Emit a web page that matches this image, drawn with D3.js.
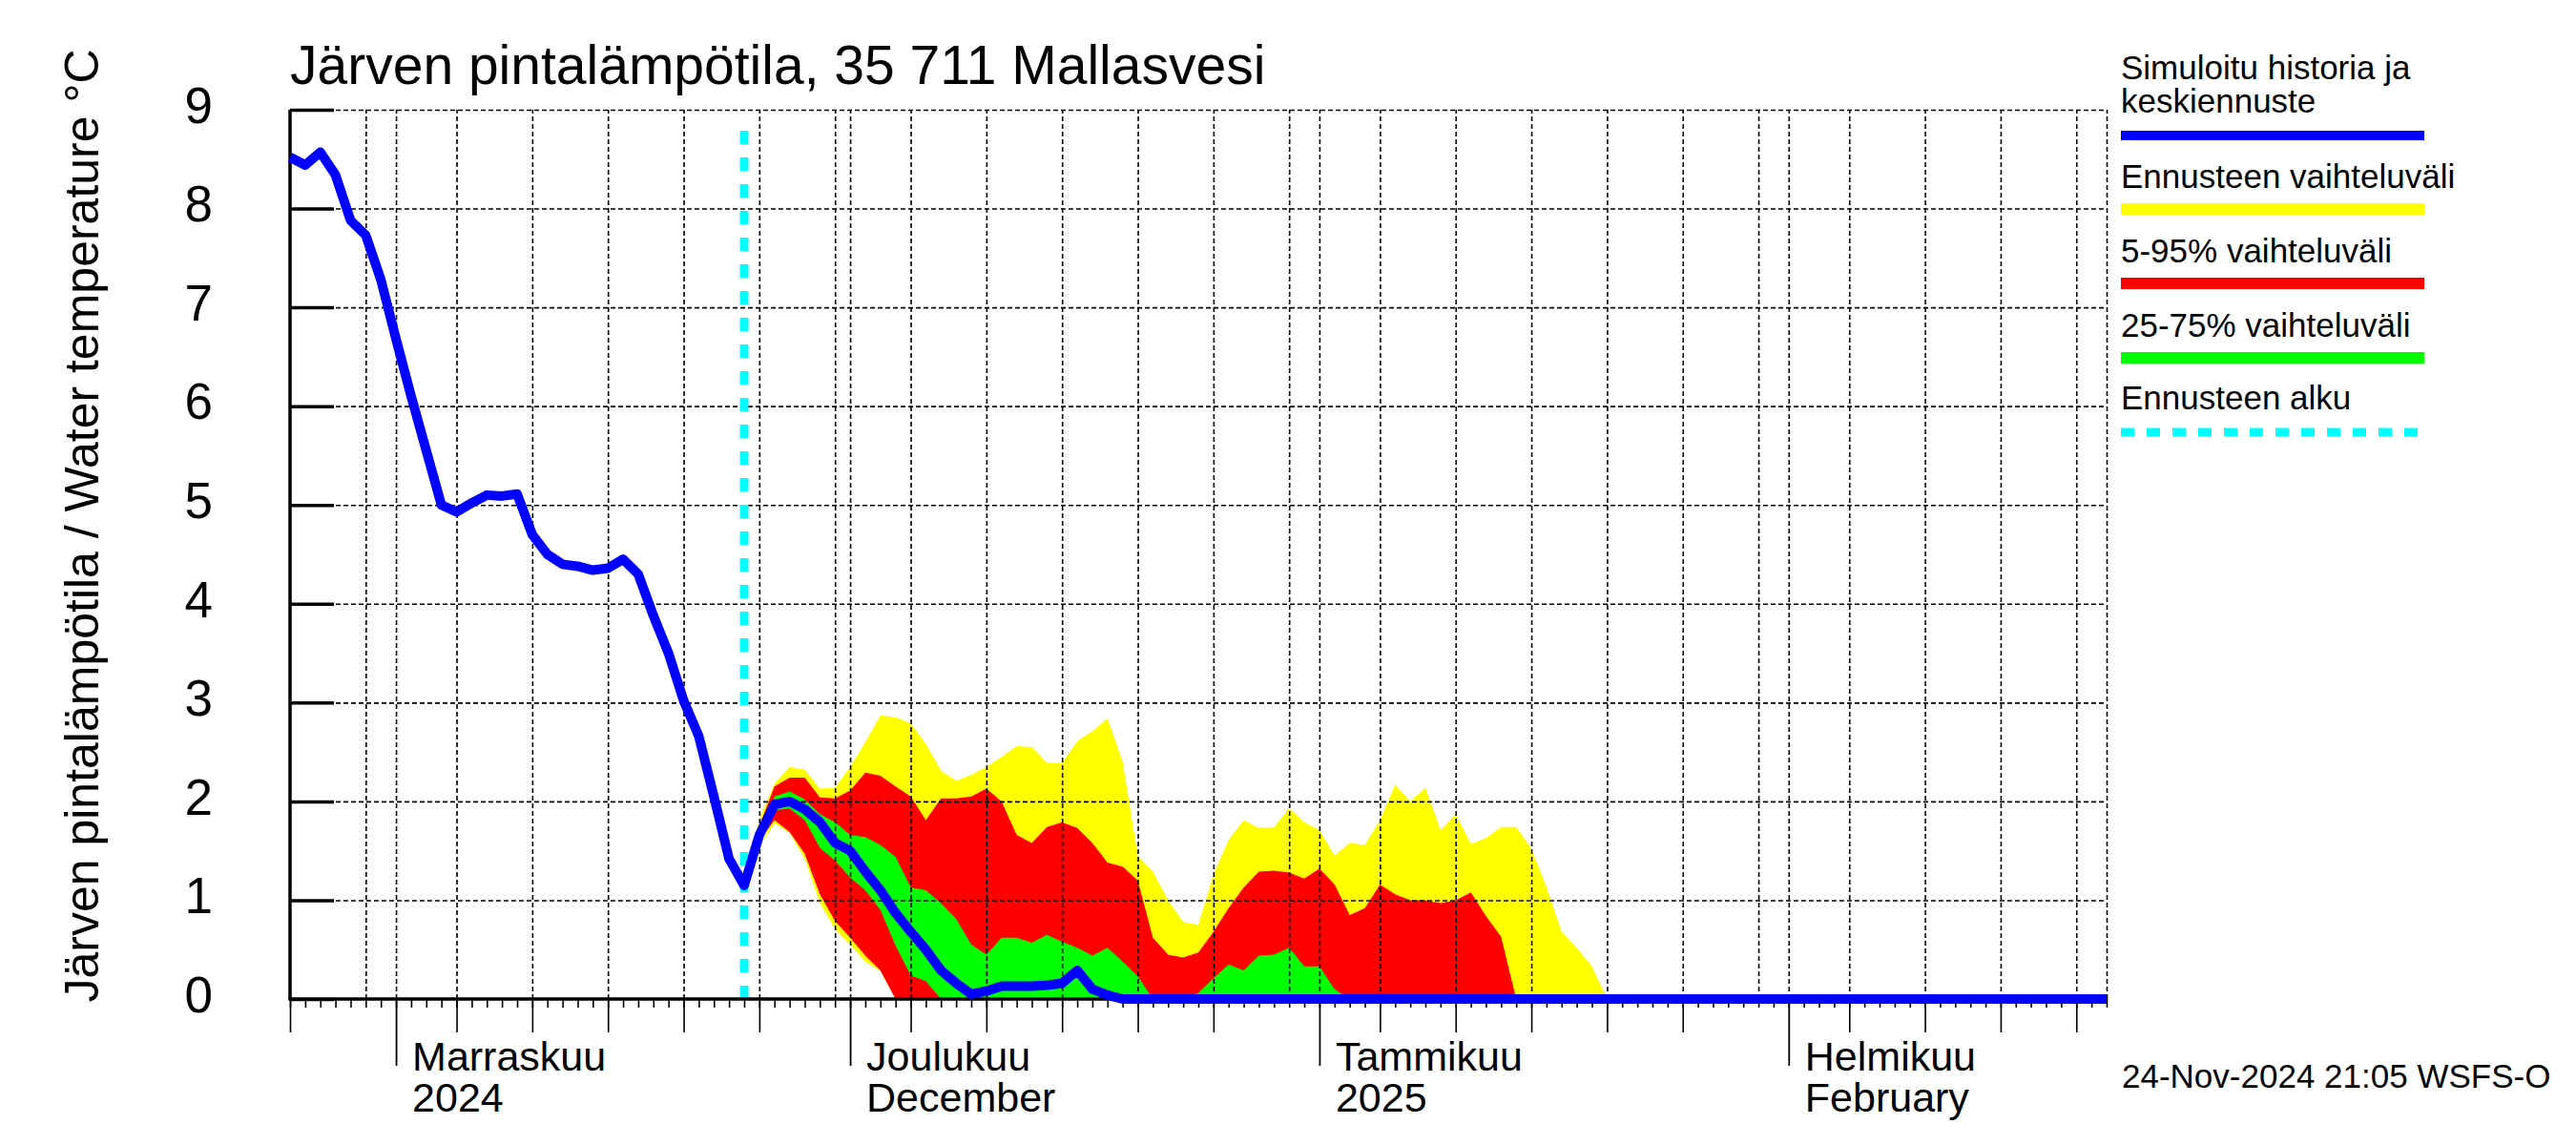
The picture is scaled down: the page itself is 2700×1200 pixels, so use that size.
<!DOCTYPE html>
<html>
<head>
<meta charset="utf-8">
<script src="https://cdn.jsdelivr.net/npm/d3@7"></script>
<style>
body { margin: 0; background: #fff; }
svg { display: block; font-family: "Liberation Sans", Arial, Helvetica, sans-serif; }
</style>
</head>
<body>
<svg id="chart" width="2700" height="1200"></svg>
<script>
// daily values, first value = 25 Oct 2024
var medianValues = [
  8.52, 8.44, 8.57, 8.34, 7.88, 7.73, 7.28, 6.68, 6.10, 5.55,
  5.00, 4.93, 5.02, 5.10, 5.09, 5.11, 4.70, 4.50, 4.40, 4.38,
  4.34, 4.36, 4.45, 4.30, 3.88, 3.50, 3.02, 2.66, 2.05, 1.42,
  1.15, 1.66, 1.97, 2.00, 1.92, 1.79, 1.58, 1.50, 1.29, 1.10,
  0.87, 0.68, 0.50, 0.29, 0.16, 0.05, 0.08, 0.13, 0.13, 0.13,
  0.14, 0.16, 0.29, 0.10, 0.04, 0.00, 0, 0, 0, 0,
  0, 0, 0, 0, 0, 0, 0, 0, 0, 0,
  0, 0, 0, 0, 0, 0, 0, 0, 0, 0,
  0, 0, 0, 0, 0, 0, 0, 0, 0, 0,
  0, 0, 0, 0, 0, 0, 0, 0, 0, 0,
  0, 0, 0, 0, 0, 0, 0, 0, 0, 0,
  0, 0, 0, 0, 0, 0, 0, 0, 0, 0,
  0
];

// forecast bands, first value = 24 Nov 2024
var yellowHi = [
  1.15, 1.82, 2.18, 2.35, 2.32, 2.13, 2.14, 2.35, 2.60, 2.87,
  2.85, 2.79, 2.58, 2.31, 2.21, 2.27, 2.35, 2.45, 2.56, 2.55,
  2.39, 2.39, 2.61, 2.71, 2.84, 2.40, 1.45, 1.29, 1.00, 0.78,
  0.75, 1.26, 1.61, 1.81, 1.73, 1.74, 1.93, 1.79, 1.71, 1.45,
  1.58, 1.56, 1.81, 2.17, 2.00, 2.14, 1.71, 1.87, 1.57, 1.63,
  1.74, 1.74, 1.52, 1.13, 0.68, 0.52, 0.33, 0.00
];
var yellowLo = [
  1.15, 1.55, 1.78, 1.68, 1.42, 0.97, 0.71, 0.55, 0.38, 0.28,
  0, 0, 0, 0, 0, 0, 0, 0, 0, 0,
  0, 0, 0, 0, 0, 0, 0, 0, 0, 0,
  0, 0, 0, 0, 0, 0, 0, 0, 0, 0,
  0, 0, 0, 0, 0, 0, 0, 0, 0, 0,
  0, 0, 0, 0, 0, 0, 0, 0
];
var redHi = [
  1.15, 1.75, 2.15, 2.24, 2.24, 2.04, 2.03, 2.11, 2.29, 2.26,
  2.15, 2.05, 1.81, 2.03, 2.03, 2.05, 2.13, 2.00, 1.66, 1.58,
  1.74, 1.79, 1.73, 1.58, 1.38, 1.34, 1.20, 0.62, 0.45, 0.42,
  0.47, 0.68, 0.92, 1.13, 1.29, 1.30, 1.28, 1.22, 1.32, 1.16,
  0.85, 0.92, 1.16, 1.06, 1.00, 1.00, 0.97, 1.00, 1.08, 0.84,
  0.63, 0.00
];
var redLo = [
  1.15, 1.60, 1.81, 1.69, 1.47, 1.06, 0.79, 0.62, 0.44, 0.29,
  0, 0, 0, 0, 0, 0, 0, 0, 0, 0,
  0, 0, 0, 0, 0, 0, 0, 0, 0, 0,
  0, 0, 0, 0, 0, 0, 0, 0, 0, 0,
  0, 0, 0, 0, 0, 0, 0, 0, 0, 0,
  0, 0
];
var greenHi = [
  1.15, 1.72, 2.05, 2.10, 2.02, 1.87, 1.79, 1.66, 1.64, 1.56,
  1.44, 1.13, 1.10, 0.97, 0.81, 0.55, 0.45, 0.62, 0.62, 0.57,
  0.65, 0.58, 0.52, 0.44, 0.52, 0.38, 0.23, 0.00, 0.00, 0.00,
  0.06, 0.21, 0.35, 0.29, 0.44, 0.45, 0.52, 0.33, 0.33, 0.10,
  0.00
];
var greenLo = [
  1.15, 1.62, 1.91, 1.93, 1.81, 1.53, 1.40, 1.23, 1.10, 0.90,
  0.54, 0.24, 0.18, 0, 0, 0, 0, 0, 0, 0,
  0, 0, 0, 0, 0, 0, 0, 0, 0, 0,
  0, 0, 0, 0, 0, 0, 0, 0, 0, 0,
  0
];

var yTicks = [0, 1, 2, 3, 4, 5, 6, 7, 8, 9];
var monthStarts = ["2024-11-01", "2024-12-01", "2025-01-01", "2025-02-01"];
var monthNames = ["Marraskuu", "Joulukuu", "Tammikuu", "Helmikuu"];
var monthSub = ["2024", "December", "2025", "February"];
var legendLabels = [["Simuloitu historia ja", "keskiennuste"], ["Ennusteen vaihteluväli"],
                    ["5-95% vaihteluväli"], ["25-75% vaihteluväli"], ["Ennusteen alku"]];

// plot box (window.top is read only, so other names)
var plotL = 304, plotR = 2208, plotT = 115, plotB = 1047;
var startDate = new Date(Date.UTC(2024, 9, 25));
var endDate = new Date(Date.UTC(2025, 1, 22));
var forecastDate = new Date(Date.UTC(2024, 10, 24));

var svg = d3.select("#chart");
svg.append("rect").attr("width", 2700).attr("height", 1200).attr("fill", "#fff");

var x = d3.scaleUtc().domain([startDate, endDate]).range([plotL, plotR]);
var y = d3.scaleLinear().domain([0, 9]).range([plotB, plotT]);

function toPoints(values, first) {
    return values.map((v, i) => ({date: d3.utcDay.offset(first, i), v: v}));
}
function toBand(hi, lo, first) {
    return hi.map((v, i) => ({date: d3.utcDay.offset(first, i), hi: v, lo: lo[i]}));
}

// bands
var area = d3.area().x(d => x(d.date)).y0(d => y(d.lo)).y1(d => y(d.hi));
[[yellowHi, yellowLo, "#ffff00"], [redHi, redLo, "#ff0000"], [greenHi, greenLo, "#00ff00"]].forEach(function(b) {
    svg.append("path").datum(toBand(b[0], b[1], forecastDate))
       .attr("d", area).attr("fill", b[2]).attr("stroke", "none");
});

// grid
var allDays = d3.utcDay.range(startDate, d3.utcDay.offset(endDate, 1));
var gridDays = allDays.filter(d => d > startDate && [1, 5, 10, 15, 20, 25, 30].indexOf(d.getUTCDate()) >= 0);
gridDays.push(endDate);

var gx = svg.append("g").attr("transform", "translate(0," + plotB + ")")
   .call(d3.axisBottom(x).tickValues(gridDays).tickSize(-(plotB - plotT)).tickFormat(""));
gx.select(".domain").remove();
gx.selectAll("line").attr("stroke", "#000").attr("stroke-width", 1.6).attr("stroke-dasharray", "5,3");

var gy = svg.append("g").attr("transform", "translate(" + plotL + ",0)")
   .call(d3.axisLeft(y).tickValues(yTicks.slice(1)).tickSize(-(plotR - plotL)).tickFormat(""));
gy.select(".domain").remove();
gy.selectAll("line").attr("stroke", "#000").attr("stroke-width", 1.6).attr("stroke-dasharray", "5,3");

// forecast start
svg.append("line")
   .attr("x1", x(forecastDate)).attr("x2", x(forecastDate))
   .attr("y1", y(0)).attr("y2", plotT + 12)
   .attr("stroke", "#00ffff").attr("stroke-width", 9).attr("stroke-dasharray", "14,14");

// x axis ticks
function tickRow(values, size, width) {
    var g = svg.append("g").attr("transform", "translate(0," + plotB + ")")
       .call(d3.axisBottom(x).tickValues(values).tickSize(size).tickFormat(""));
    g.select(".domain").remove();
    g.selectAll("line").attr("stroke", "#000").attr("stroke-width", width);
}
tickRow(allDays, 9, 1.6);
tickRow(allDays.filter(d => [5, 10, 15, 20, 25].indexOf(d.getUTCDate()) >= 0), 35, 1.6);
tickRow(monthStarts.map(s => new Date(s + "T00:00:00Z")), 70, 1.8);

// y axis ticks (inside) and labels
var yt = svg.append("g").attr("transform", "translate(" + plotL + ",0)")
   .call(d3.axisRight(y).tickValues(yTicks).tickSize(46).tickFormat(""));
yt.select(".domain").remove();
yt.selectAll("line").attr("stroke", "#000").attr("stroke-width", 3.5);

var yl = svg.append("g").attr("transform", "translate(" + plotL + ",0)")
   .call(d3.axisLeft(y).tickValues(yTicks).tickSize(0).tickPadding(81));
yl.select(".domain").remove();
yl.attr("font-family", null).attr("font-size", null);
yl.selectAll("text").attr("font-size", 53).attr("dy", "0.25em").attr("fill", "#000");

// axis lines
svg.append("line").attr("x1", plotL).attr("x2", plotL).attr("y1", plotT).attr("y2", plotB)
   .attr("stroke", "#000").attr("stroke-width", 3.5);
svg.append("line").attr("x1", plotL - 1.7).attr("x2", plotR).attr("y1", plotB).attr("y2", plotB)
   .attr("stroke", "#000").attr("stroke-width", 3.5);

// median / history line
var line = d3.line().x(d => x(d.date)).y(d => y(d.v));
svg.append("path").datum(toPoints(medianValues, startDate))
   .attr("d", line).attr("fill", "none").attr("stroke", "#0000ff")
   .attr("stroke-width", 10).attr("stroke-linejoin", "round");

// month labels
monthStarts.forEach(function(s, i) {
    var mx = x(new Date(s + "T00:00:00Z")) + 17;
    svg.append("text").attr("x", mx).attr("y", 1122).attr("font-size", 43).text(monthNames[i]);
    svg.append("text").attr("x", mx).attr("y", 1165).attr("font-size", 43).text(monthSub[i]);
});

// title and axis title
svg.append("text").attr("x", 304).attr("y", 88).attr("font-size", 57)
   .text("Järven pintalämpötila, 35 711 Mallasvesi");
svg.append("text").attr("transform", "translate(103,551) rotate(-90)")
   .attr("text-anchor", "middle").attr("font-size", 50)
   .text("Järven pintalämpötila / Water temperature °C");

// legend
var legendColors = ["#0000ff", "#ffff00", "#ff0000", "#00ff00", "#00ffff"];
var legendTextY = [83, 197, 275, 353, 429];
var legendLineY = [142, 219, 297, 375, 453];
var legendWidth = [10, 12, 12, 12, 9];
legendLabels.forEach(function(lines, i) {
    lines.forEach(function(t, j) {
        svg.append("text").attr("x", 2223).attr("y", legendTextY[i] + j * 35)
           .attr("font-size", 35).text(t);
    });
    svg.append("line").attr("x1", 2223).attr("x2", 2541)
       .attr("y1", legendLineY[i]).attr("y2", legendLineY[i])
       .attr("stroke", legendColors[i]).attr("stroke-width", legendWidth[i])
       .attr("stroke-dasharray", i == 4 ? "14,13" : null);
});

svg.append("text").attr("x", 2224).attr("y", 1140).attr("font-size", 35)
   .text("24-Nov-2024 21:05 WSFS-O");
</script>
</body>
</html>
